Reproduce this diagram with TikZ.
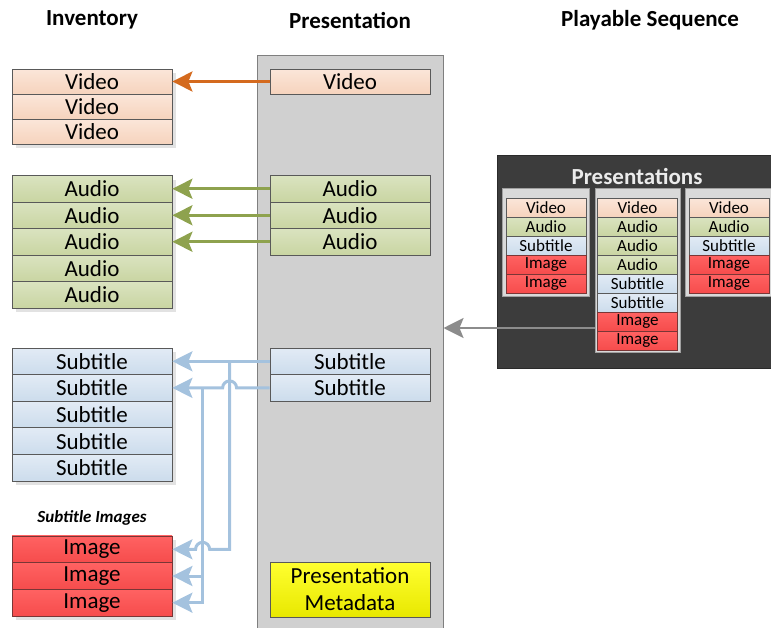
\documentclass[tikz,border=0pt]{standalone}
\usepackage{fontspec}
\setmainfont{Carlito}
\usetikzlibrary{arrows.meta,calc}
\definecolor{vidT}{HTML}{FBE6D9}\definecolor{vidB}{HTML}{F6D3BD}
\definecolor{audT}{HTML}{DAE3C0}\definecolor{audB}{HTML}{C9D5A2}
\definecolor{subT}{HTML}{E2EBF5}\definecolor{subB}{HTML}{CCDCEC}
\definecolor{imgT}{HTML}{FF6262}\definecolor{imgB}{HTML}{F64C4C}
\definecolor{imgline}{HTML}{7A3636}
\definecolor{ylwT}{HTML}{FFFF30}\definecolor{ylwB}{HTML}{E8E800}
\definecolor{cellline}{HTML}{595959}
\definecolor{panelfill}{HTML}{D0D0D0}
\definecolor{panelline}{HTML}{7F7F7F}
\definecolor{darkbg}{HTML}{3C3C3C}
\definecolor{framefill}{HTML}{D9D9D9}
\definecolor{frameline}{HTML}{A0A0A0}
\definecolor{orangeA}{HTML}{D46A1E}
\definecolor{greenA}{HTML}{8EA24E}
\definecolor{blueA}{HTML}{A4C2DE}
\definecolor{grayA}{HTML}{8C8C8C}
\definecolor{shadowc}{HTML}{E2E2E2}
\begin{document}
\begin{tikzpicture}[x=1pt,y=-1pt,
  cell/.style={draw=cellline, line width=0.8pt, minimum width=160pt, inner sep=0pt, font=\fontsize{23}{27}\selectfont},
  vid/.style={cell, top color=vidT, bottom color=vidB},
  aud/.style={cell, top color=audT, bottom color=audB},
  sub/.style={cell, top color=subT, bottom color=subB},
  img/.style={cell, draw=imgline, top color=imgT, bottom color=imgB},
  scell/.style={draw=cellline, line width=0.6pt, minimum width=80pt, minimum height=19pt, inner sep=0pt, font=\fontsize{17}{19}\selectfont},
  svid/.style={scell, top color=vidT, bottom color=vidB},
  saud/.style={scell, top color=audT, bottom color=audB},
  ssub/.style={scell, top color=subT, bottom color=subB},
  simg/.style={scell, draw=imgline, top color=imgT, bottom color=imgB},
  header/.style={font=\fontsize{23}{27}\selectfont\bfseries},
  frame/.style={draw=frameline, fill=framefill, line width=1pt},
  arr/.style={line width=3pt, -{Stealth[length=20pt,width=20pt,inset=4pt]}},
  subline/.style={draw=blueA, line width=3pt},
  subarrow/.style={subline, -{Stealth[length=20pt,width=20pt,inset=4pt]}}
]
\useasboundingbox (0,0) rectangle (771,627);

% headers
\node[header] (h1) at (92,20) {Inventory};
\node[header] (h2) at (350,20) {Presentation};
\node[header] (h3) at (650,20) {Playable Sequence};

% shadows of inventory groups
\fill[shadowc] (16,72.5) rectangle (176,148);
\fill[shadowc] (16,179.5) rectangle (176,312);
\fill[shadowc] (16,352) rectangle (176,485);
\fill[shadowc] (16,540) rectangle (176,620);

% inventory
\foreach \y [count=\i] in {81.5,106.5,131.5}
  \node[vid, minimum height=25pt] (iv\i) at (92,\y) {Video};
\foreach \y [count=\i] in {188.75,215.25,241.75,268.25,294.75}
  \node[aud, minimum height=26.5pt] (ia\i) at (92,\y) {Audio};
\foreach \y [count=\i] in {361.3,387.9,414.5,441.1,467.7}
  \node[sub, minimum height=26.6pt] (is\i) at (92,\y) {Subtitle};
\node[font=\fontsize{17}{19}\selectfont\bfseries\itshape] (sil) at (92,518) {Subtitle Images};
\foreach \y [count=\i] in {549.3,576,602.7}
  \node[img, minimum height=26.7pt] (im\i) at (92,\y) {Image};

% presentation panel
\node[draw=panelline, fill=panelfill, line width=1pt, minimum width=186pt, minimum height=585pt, inner sep=0pt] (panel) at (350,347.5) {};
\node[vid, minimum height=25pt] (pv) at (350,81.5) {Video};
\foreach \y [count=\i] in {188.75,215.25,241.75}
  \node[aud, minimum height=26.5pt] (pa\i) at (350,\y) {Audio};
\foreach \y [count=\i] in {361.3,387.9}
  \node[sub, minimum height=26.6pt] (ps\i) at (350,\y) {Subtitle};
\node[cell, top color=ylwT, bottom color=ylwB, minimum height=55pt, align=center] (meta) at (350,589.5) {Presentation\\Metadata};

% playable sequence
\node[draw=darkbg!70!black, fill=darkbg, minimum width=274pt, minimum height=213pt, inner sep=0pt] (dark) at (634,261.5) {};
\node[font=\fontsize{23}{27}\selectfont\bfseries, text=white!92!black] (pt) at (637,176) {Presentations};
\node[frame, minimum width=87pt, minimum height=108pt, inner sep=0pt] (f1) at (545.5,242) {};
\node[frame, minimum width=85pt, minimum height=164pt, inner sep=0pt] (f2) at (637.5,270) {};
\node[frame, minimum width=86pt, minimum height=108pt, inner sep=0pt] (f3) at (728,242) {};
\foreach \s/\t [count=\i] in {svid/Video,saud/Audio,ssub/Subtitle,simg/Image,simg/Image}
  \node[\s] (a\i) at (546,188.5+19*\i) {\t};
\foreach \s/\t [count=\i] in {svid/Video,saud/Audio,saud/Audio,saud/Audio,ssub/Subtitle,ssub/Subtitle,simg/Image,simg/Image}
  \node[\s] (b\i) at (637.5,188.5+19*\i) {\t};
\foreach \s/\t [count=\i] in {svid/Video,saud/Audio,ssub/Subtitle,simg/Image,simg/Image}
  \node[\s] (c\i) at (729,188.5+19*\i) {\t};

% connectors
\draw[arr, draw=orangeA, fill=orangeA] (pv.west) -- (iv1.east);
\foreach \i in {1,2,3}
  \draw[arr, draw=greenA, fill=greenA] (pa\i.west) -- (ia\i.east);

\coordinate (gs) at ($(f2.west)+(0,58)$);
\draw[arr, line width=2.5pt, draw=grayA, fill=grayA] (gs) -- (gs -| panel.east);

\path (ps1.west) ++(-40,0) coordinate (j1);
\path (ps2.west) ++(-67,0) coordinate (j2);
\draw[subarrow] (ps1.west) -- (is1.east);
\draw[subarrow] (ps2.west) -- ($(j1 |- ps2.west)+(7,0)$) arc[start angle=0, end angle=180, radius=7pt] -- (is2.east);
\draw[subarrow] (j1) -- (j1 |- im1.east) -- ($(j2 |- im1.east)+(7,0)$) arc[start angle=0, end angle=180, radius=7pt] -- (im1.east);
\draw[subarrow] (j2) -- (j2 |- im3.east) -- (im3.east);
\draw[subarrow] (j2 |- im2.east) -- (im2.east);
\end{tikzpicture}
\end{document}
